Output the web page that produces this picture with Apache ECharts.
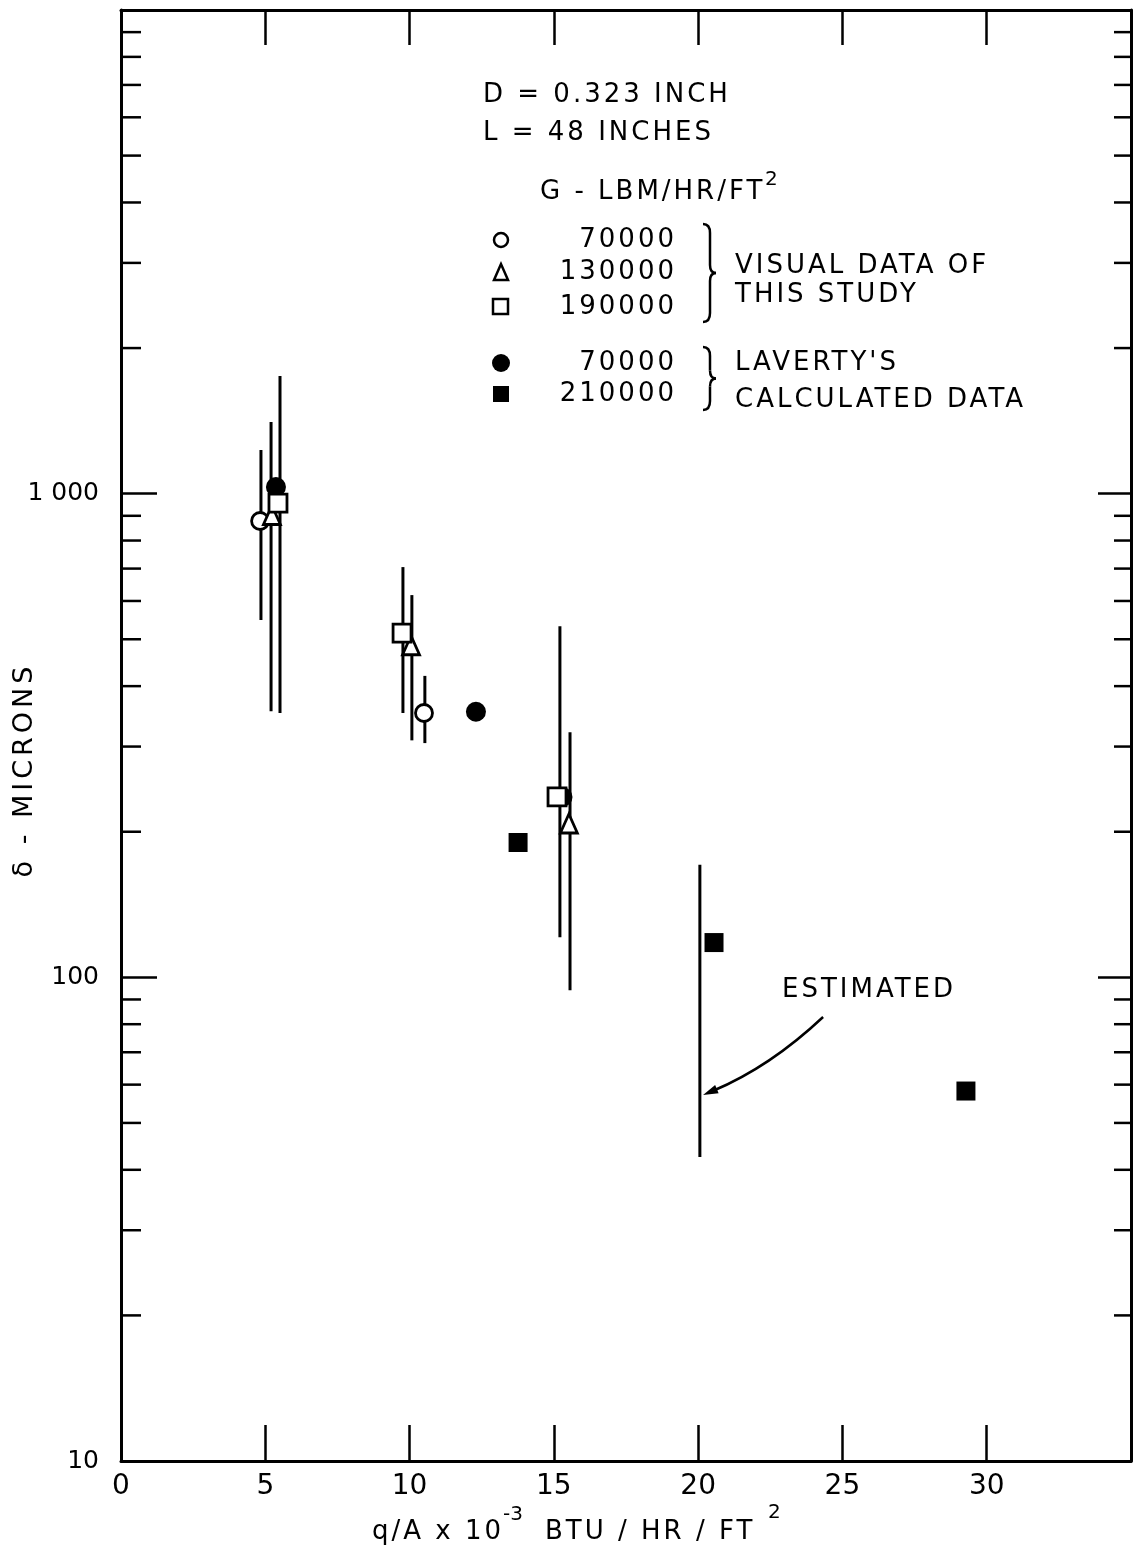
<!DOCTYPE html>
<html><head><meta charset="utf-8">
<script src="https://cdn.jsdelivr.net/npm/echarts@6/dist/echarts.min.js"></script>
<style>html,body{margin:0;padding:0;background:#fff}#c{width:1133px;height:1550px}</style>
</head><body><div id="c"></div>
<script>
// ---- data ----
const xTickValues = [0, 5, 10, 15, 20, 25, 30];
const yLabelText = { 10: '10', 100: '100', 1000: '1 000' };
const yMinorTicks = [20, 30, 40, 50, 60, 70, 80, 90, 200, 300, 400, 500, 600, 700, 800, 900, 2000, 3000, 4000, 5000, 6000, 7000, 8000, 9000];

// visual data of this study: [q/A, delta]; ranges: [q/A, low, high]
const visual70000 = [[4.82, 878], [10.50, 352]];
const visual70000Range = [[4.85, 548, 1231], [10.53, 305, 420]];
const visual130000 = [[5.23, 903], [10.05, 486], [15.52, 208]];
const visual130000Range = [[5.20, 355, 1406], [10.08, 309, 617], [15.56, 94, 321]];
const visual190000 = [[5.44, 956], [9.74, 515], [15.11, 236]];
const visual190000Range = [[5.51, 352, 1751], [9.77, 352, 705], [15.21, 121, 532]];
// Laverty's calculated data
const laverty70000 = [[5.37, 1032], [12.30, 354], [15.30, 236]];
const laverty210000 = [[13.76, 190], [20.55, 118], [29.28, 58.2]];
// estimated range and its arrow [fromX, fromY, toX, toY]
const estimatedRange = [[20.06, 42.5, 171]];
const estimatedArrow = [[24.33, 82.8, 20.17, 57.1]];

// spaced lettering (like the original drawing) for the annotation text
(function () {
  const P = CanvasRenderingContext2D.prototype, of = P.fillText;
  P.fillText = function () {
    try {
      const f = this.font || '';
      this.letterSpacing = f.indexOf('26px') >= 0 ? '3px' : (f.indexOf('27px') >= 0 ? '4px' : '0px');
    } catch (e) {}
    return of.apply(this, arguments);
  };
})();

const FONT = 'DejaVu Sans';
const chart = echarts.init(document.getElementById('c'), null, { renderer: 'canvas' });

function rangeSeries(data) {
  return {
    type: 'custom', data, coordinateSystem: 'cartesian2d', z: 2, silent: true, clip: false,
    encode: { x: 0, y: [1, 2] },
    renderItem: (params, api) => {
      const a = api.coord([api.value(0), api.value(1)]);
      const b = api.coord([api.value(0), api.value(2)]);
      return { type: 'line', shape: { x1: a[0], y1: a[1], x2: b[0], y2: b[1] }, style: { stroke: '#000', lineWidth: 3 } };
    }
  };
}
const openStyle = { color: '#fff', borderColor: '#000', borderWidth: 2.8, opacity: 1 };
const fillStyle = { color: '#000', opacity: 1 };
const t = (text, x, y, align, size) => ({ type: 'text', x, y, silent: true, style: { text, fill: '#000', font: (size || 26) + 'px "' + FONT + '"', textAlign: align || 'left', textVerticalAlign: 'middle' } });
const bs = { stroke: '#000', lineWidth: 2.5, fill: null };
const brace = (x, y1, y2) => {
  const m = (y1 + y2) / 2;
  return { type: 'group', silent: true, children: [
    { type: 'bezierCurve', shape: { x1: x, y1: y1, cpx1: x + 7, cpy1: y1, x2: x + 7, y2: y1 + 9 }, style: bs },
    { type: 'line', shape: { x1: x + 7, y1: y1 + 9, x2: x + 7, y2: m - 8 }, style: bs },
    { type: 'bezierCurve', shape: { x1: x + 7, y1: m - 8, cpx1: x + 7, cpy1: m, x2: x + 13, y2: m }, style: bs },
    { type: 'bezierCurve', shape: { x1: x + 13, y1: m, cpx1: x + 7, cpy1: m, x2: x + 7, y2: m + 8 }, style: bs },
    { type: 'line', shape: { x1: x + 7, y1: m + 8, x2: x + 7, y2: y2 - 9 }, style: bs },
    { type: 'bezierCurve', shape: { x1: x + 7, y1: y2 - 9, cpx1: x + 7, cpy1: y2, x2: x, y2: y2 }, style: bs }
  ] };
};

const option = {
  animation: false,
  backgroundColor: '#fff',
  textStyle: { fontFamily: FONT, color: '#000' },
  grid: { left: 121, right: 2, top: 10, bottom: 89, containLabel: false, outerBoundsMode: 'none' },
  xAxis: [{
    type: 'value', min: 0, max: 35, interval: 5, position: 'bottom',
    axisLine: { onZero: false, lineStyle: { color: '#000', width: 3 } },
    axisTick: { inside: true, length: 36, lineStyle: { color: '#000', width: 2.5 } },
    axisLabel: { margin: 12, fontSize: 28, color: '#000', fontFamily: FONT, formatter: v => xTickValues.includes(v) ? String(v) : '' },
    splitLine: { show: false }
  }, {
    type: 'value', min: 0, max: 35, interval: 5, position: 'top',
    axisLine: { onZero: false, lineStyle: { color: '#000', width: 3 } },
    axisTick: { inside: true, length: 35, lineStyle: { color: '#000', width: 2.5 } },
    axisLabel: { show: false }, splitLine: { show: false }
  }],
  yAxis: [{
    type: 'log', logBase: 10, min: 10, max: 10000, position: 'left',
    axisLine: { onZero: false, lineStyle: { color: '#000', width: 3 } },
    axisTick: { inside: true, length: 36, lineStyle: { color: '#000', width: 2.5 } },
    axisLabel: { margin: 22, fontSize: 25, color: '#000', fontFamily: FONT, formatter: v => yLabelText[Math.round(v)] || '' },
    splitLine: { show: false }
  }, {
    type: 'log', logBase: 10, min: 10, max: 10000, position: 'right',
    axisLine: { onZero: false, lineStyle: { color: '#000', width: 3 } },
    axisTick: { inside: true, length: 33, lineStyle: { color: '#000', width: 2.5 } },
    axisLabel: { show: false }, splitLine: { show: false }
  }],
  series: [
    {
      type: 'custom', data: yMinorTicks.map(v => [0, v]), coordinateSystem: 'cartesian2d', silent: true, clip: false, z: 1,
      renderItem: (params, api) => {
        const p = api.coord([0, api.value(1)]);
        const cs = params.coordSys;
        return { type: 'group', children: [
          { type: 'line', shape: { x1: cs.x, y1: p[1], x2: cs.x + 20, y2: p[1] }, style: { stroke: '#000', lineWidth: 2.5 } },
          { type: 'line', shape: { x1: cs.x + cs.width - 17, y1: p[1], x2: cs.x + cs.width, y2: p[1] }, style: { stroke: '#000', lineWidth: 2.5 } }
        ] };
      }
    },
    rangeSeries(visual70000Range),
    rangeSeries(visual130000Range),
    rangeSeries(visual190000Range),
    rangeSeries(estimatedRange),
    {
      type: 'custom', data: estimatedArrow, coordinateSystem: 'cartesian2d', silent: true, clip: false, z: 3,
      encode: { x: [0, 2], y: [1, 3] },
      renderItem: (params, api) => {
        const a = api.coord([api.value(0), api.value(1)]);
        const b = api.coord([api.value(2), api.value(3)]);
        const dx = b[0] - a[0], dy = b[1] - a[1], c = 0.09;
        const cp = [(a[0] + b[0]) / 2 + c * dy, (a[1] + b[1]) / 2 - c * dx];
        let ux = b[0] - cp[0], uy = b[1] - cp[1];
        const L = Math.hypot(ux, uy); ux /= L; uy /= L;
        const nx = -uy, ny = ux, hl = 15, hw = 4.5;
        const base = [b[0] - ux * hl, b[1] - uy * hl];
        return { type: 'group', children: [
          { type: 'bezierCurve', shape: { x1: a[0], y1: a[1], cpx1: cp[0], cpy1: cp[1], x2: base[0] + ux * 4, y2: base[1] + uy * 4 }, style: { stroke: '#000', lineWidth: 2.5, fill: null } },
          { type: 'polygon', shape: { points: [b, [base[0] + nx * hw, base[1] + ny * hw], [base[0] - nx * hw, base[1] - ny * hw]] }, style: { fill: '#000' } }
        ] };
      }
    },
    { type: 'scatter', data: laverty70000, symbol: 'circle', symbolSize: 20, itemStyle: fillStyle, z: 4, silent: true },
    { type: 'scatter', data: laverty210000, symbol: 'rect', symbolSize: 19, itemStyle: fillStyle, z: 4, silent: true },
    { type: 'scatter', data: visual70000, symbol: 'circle', symbolSize: 17, itemStyle: openStyle, z: 5, silent: true },
    { type: 'scatter', data: visual130000, symbol: 'triangle', symbolSize: [17, 19], itemStyle: openStyle, z: 5, silent: true },
    { type: 'scatter', data: visual190000, symbol: 'rect', symbolSize: 18, itemStyle: openStyle, z: 5, silent: true }
  ],
  graphic: [
    Object.assign(t('δ - MICRONS', 25, 770, 'center', 27), { rotation: Math.PI / 2 }),
    t('D = 0.323 INCH', 483, 95),
    t('L = 48 INCHES', 483, 133),
    t('G - LBM/HR/FT', 540, 192),
    t('2', 765, 180, 'left', 20),
    { type: 'circle', silent: true, shape: { cx: 501, cy: 240, r: 7 }, style: { fill: '#fff', stroke: '#000', lineWidth: 2.5 } },
    { type: 'polygon', silent: true, shape: { points: [[501, 264], [494, 280], [508, 280]] }, style: { fill: '#fff', stroke: '#000', lineWidth: 2.5 } },
    { type: 'rect', silent: true, shape: { x: 493, y: 299, width: 15, height: 15 }, style: { fill: '#fff', stroke: '#000', lineWidth: 2.5 } },
    { type: 'circle', silent: true, shape: { cx: 501, cy: 363, r: 9 }, style: { fill: '#000' } },
    { type: 'rect', silent: true, shape: { x: 493, y: 386, width: 16, height: 16 }, style: { fill: '#000' } },
    t('70000', 677, 240, 'right'),
    t('130000', 677, 272, 'right'),
    t('190000', 677, 307, 'right'),
    t('70000', 677, 363, 'right'),
    t('210000', 677, 394, 'right'),
    brace(703, 224, 322),
    brace(703, 347, 410),
    t('VISUAL DATA OF', 735, 266),
    t('THIS STUDY', 735, 295),
    t("LAVERTY'S", 735, 363),
    t('CALCULATED DATA', 735, 400),
    t('ESTIMATED', 782, 990),
    t('q/A x 10', 372, 1532),
    t('-3', 503, 1515, 'left', 20),
    t('BTU / HR / FT', 545, 1532),
    t('2', 768, 1513, 'left', 20)
  ]
};
chart.setOption(option);
</script>
</body></html>
